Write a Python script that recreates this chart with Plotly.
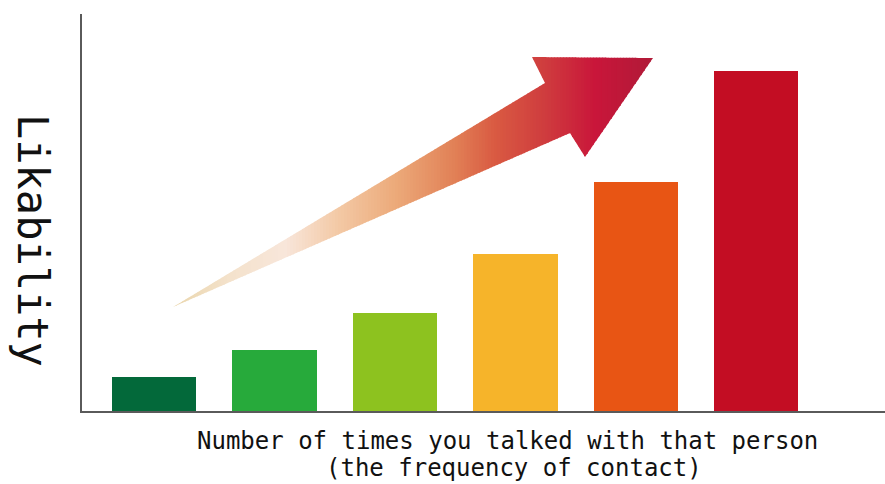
import plotly.graph_objects as go

# ---- data ----
categories = [0, 1, 2, 3, 4, 5]
likability = [8.6, 15.4, 24.8, 39.5, 57.8, 85.7]
bar_colors = ["#03693A", "#27AA3B", "#8DC21F", "#F6B42A", "#E85514", "#C30D23"]
y_title = "Likability"
x_title_1 = "Number of times you talked with that person"
x_title_2 = "(the frequency of contact)"

W, H = 885, 484
ML, MR, MT, MB = 82, 0, 14, 73
PW, PH = W - ML - MR, H - MT - MB

fig = go.Figure()
fig.add_trace(go.Bar(
    x=categories, y=likability, width=0.7,
    marker=dict(color=bar_colors, line=dict(width=0)),
    hoverinfo="skip", showlegend=False,
))

# ---- decorative gradient arrow (pixel coords of the page) ----
arrow_px = [(173, 307), (545, 83), (532, 57), (653, 58), (585, 157), (570, 133)]
grad_stops = [
    (173, (234, 214, 172)),
    (230, (244, 226, 204)),
    (285, (248, 230, 218)),
    (340, (243, 200, 164)),
    (395, (236, 170, 122)),
    (455, (225, 128, 86)),
    (495, (217, 90, 66)),
    (545, (207, 60, 62)),
    (595, (201, 22, 58)),
    (653, (176, 26, 56)),
]


def color_at(x):
    if x <= grad_stops[0][0]:
        c = grad_stops[0][1]
    elif x >= grad_stops[-1][0]:
        c = grad_stops[-1][1]
    else:
        for (x0, c0), (x1, c1) in zip(grad_stops, grad_stops[1:]):
            if x0 <= x <= x1:
                t = (x - x0) / (x1 - x0)
                c = tuple(c0[i] + (c1[i] - c0[i]) * t for i in range(3))
                break
    return "rgb(%d,%d,%d)" % tuple(round(v) for v in c)


def clip_half(pts, xv, keep_greater):
    out = []
    n = len(pts)
    for i in range(n):
        p, q = pts[i], pts[(i + 1) % n]
        pin = p[0] >= xv if keep_greater else p[0] <= xv
        qin = q[0] >= xv if keep_greater else q[0] <= xv
        if pin:
            out.append(p)
        if pin != qin:
            t = (xv - p[0]) / (q[0] - p[0])
            out.append((xv, p[1] + (q[1] - p[1]) * t))
    return out


def to_paper(p):
    return ((p[0] - ML) / PW, (MT + PH - p[1]) / PH)


xmin = min(p[0] for p in arrow_px)
xmax = max(p[0] for p in arrow_px)
N = 160
step = (xmax - xmin) / N
for i in range(N):
    a = xmin + i * step
    b = a + step + 0.6
    poly = clip_half(arrow_px, a, True)
    if len(poly) >= 3:
        poly = clip_half(poly, b, False)
    if len(poly) < 3:
        continue
    pp = [to_paper(p) for p in poly]
    path = "M " + " L ".join("%.5f,%.5f" % p for p in pp) + " Z"
    fig.add_shape(type="path", path=path, xref="paper", yref="paper",
                  fillcolor=color_at(a + step / 2), line=dict(width=0),
                  layer="above")

font_mono = "DejaVu Sans Mono"
fig.add_annotation(text=y_title, textangle=90, xref="paper", yref="paper",
                   x=(33 - ML) / PW, y=(MT + PH - 240) / PH, showarrow=False,
                   xanchor="center", yanchor="middle",
                   font=dict(family=font_mono, size=42, color="#111111"))
fig.add_annotation(text=x_title_1, xref="paper", yref="paper",
                   x=(507 - ML) / PW, y=(MT + PH - 441) / PH, showarrow=False,
                   xanchor="center", yanchor="middle",
                   font=dict(family=font_mono, size=24, color="#111111"))
fig.add_annotation(text=x_title_2, xref="paper", yref="paper",
                   x=(514 - ML) / PW, y=(MT + PH - 468) / PH, showarrow=False,
                   xanchor="center", yanchor="middle",
                   font=dict(family=font_mono, size=24, color="#111111"))

fig.update_layout(
    width=W, height=H,
    margin=dict(l=ML, r=MR, t=MT, b=MB, pad=0),
    paper_bgcolor="white", plot_bgcolor="white",
    xaxis=dict(range=[-0.6, 6.07], showticklabels=False, showgrid=False,
               zeroline=False, showline=True, linecolor="#5a5a5a", linewidth=2,
               ticks="", fixedrange=True),
    yaxis=dict(range=[0, 100], showticklabels=False, showgrid=False,
               zeroline=False, showline=True, linecolor="#5a5a5a", linewidth=2,
               ticks="", fixedrange=True),
    bargap=0,
)

fig.write_html("out.html", config={"displayModeBar": False})
